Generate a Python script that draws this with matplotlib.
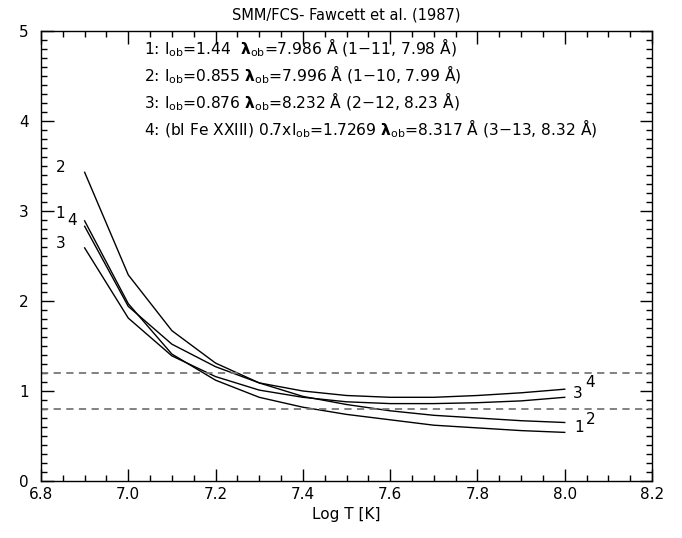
import matplotlib
matplotlib.use("Agg")
import matplotlib.pyplot as plt
from matplotlib.ticker import MultipleLocator

logT = [6.9, 7.0, 7.1, 7.2, 7.3, 7.4, 7.5, 7.6, 7.7, 7.8, 7.9, 8.0]
curve1 = [2.89, 1.97, 1.41, 1.12, 0.93, 0.82, 0.74, 0.68, 0.62, 0.59, 0.56, 0.54]
curve2 = [3.43, 2.29, 1.67, 1.31, 1.09, 0.94, 0.85, 0.78, 0.73, 0.70, 0.67, 0.65]
curve3 = [2.59, 1.81, 1.39, 1.16, 1.01, 0.93, 0.88, 0.86, 0.86, 0.87, 0.89, 0.93]
curve4 = [2.83, 1.94, 1.52, 1.27, 1.09, 1.00, 0.95, 0.93, 0.93, 0.95, 0.98, 1.02]
curves = {"1": curve1, "2": curve2, "3": curve3, "4": curve4}
ref_lines = [1.2, 0.8]

start_labels = {"2": (6.845, 3.48), "1": (6.843, 2.97), "4": (6.872, 2.89), "3": (6.845, 2.64)}
end_labels = {"3": (8.029, 0.97), "4": (8.058, 1.09), "1": (8.032, 0.59), "2": (8.059, 0.68)}

info_lines = [
    r"1: I$_{\rm ob}$=1.44  $\boldsymbol{\lambda}_{\rm ob}$=7.986 Å (1$-$11, 7.98 Å)",
    r"2: I$_{\rm ob}$=0.855 $\boldsymbol{\lambda}_{\rm ob}$=7.996 Å (1$-$10, 7.99 Å)",
    r"3: I$_{\rm ob}$=0.876 $\boldsymbol{\lambda}_{\rm ob}$=8.232 Å (2$-$12, 8.23 Å)",
    r"4: (bl Fe XXIII) 0.7xI$_{\rm ob}$=1.7269 $\boldsymbol{\lambda}_{\rm ob}$=8.317 Å (3$-$13, 8.32 Å)",
]
info_y = [4.81, 4.51, 4.21, 3.91]

fig = plt.figure(figsize=(6.82, 5.38), dpi=100)
ax = fig.add_axes([41/682, 1-481/538, (652-41)/682, (481-31)/538])

for k, v in curves.items():
    ax.plot(logT, v, color="black", lw=1.0)
for y in ref_lines:
    ax.axhline(y, color="#777777", lw=1.3, ls=(0, (4, 3)))

for k, (x, y) in start_labels.items():
    ax.text(x, y, k, fontsize=11, ha="center", va="center")
for k, (x, y) in end_labels.items():
    ax.text(x, y, k, fontsize=11, ha="center", va="center")

for s, y in zip(info_lines, info_y):
    ax.text(7.035, y, s, fontsize=11.2, ha="left", va="center")

ax.set_xlim(6.8, 8.2)
ax.set_ylim(0, 5)
ax.xaxis.set_minor_locator(MultipleLocator(0.05))
ax.yaxis.set_major_locator(MultipleLocator(1))
ax.yaxis.set_minor_locator(MultipleLocator(0.1))
ax.set_xticks([6.8, 7.0, 7.2, 7.4, 7.6, 7.8, 8.0, 8.2])
ax.set_xticklabels(["6.8", "7.0", "7.2", "7.4", "7.6", "7.8", "8.0", "8.2"])
ax.tick_params(which="both", direction="in", top=True, right=True, labelsize=11, width=1)
ax.tick_params(which="major", length=9)
ax.tick_params(which="minor", length=4.5)
ax.tick_params(axis="x", pad=4)
ax.tick_params(axis="y", pad=9)
for sp in ax.spines.values():
    sp.set_linewidth(1.0)
ax.set_xlabel("Log T [K]", fontsize=11, labelpad=4)
ax.set_title("SMM/FCS- Fawcett et al. (1987)", fontsize=10.5, pad=8)

fig.savefig("out.png", dpi=100)
